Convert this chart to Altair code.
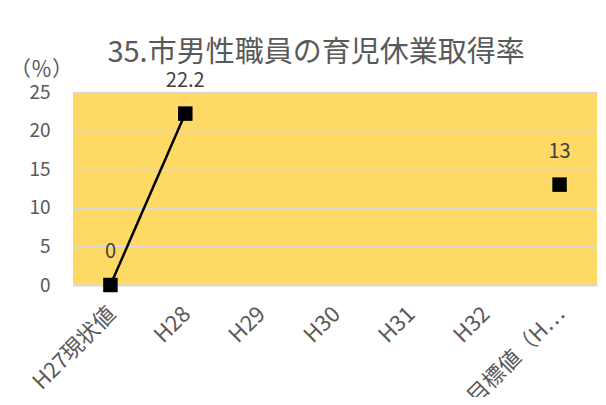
import altair as alt
import pandas as pd

categories = ["H27現状値", "H28", "H29", "H30", "H31", "H32", "目標値（H…"]
values = [0, 22.2, None, None, None, None, 13]
y_ticks = [0, 5, 10, 15, 20, 25]

df = pd.DataFrame({"cat": categories, "val": values, "order": list(range(len(categories)))})
df["label"] = [("" if v is None or pd.isna(v) else (f"{v:g}")) for v in df["val"]]

FONT = "Noto Sans CJK JP"

x = alt.X("cat:N", sort=categories,
          scale=alt.Scale(type="point", padding=0.5),
          axis=alt.Axis(title=None, labelAngle=-45, labelFontSize=22, labelColor="#595959",
                        labelFont=FONT, ticks=False, domainColor="#D9D9D9", domainWidth=2,
                        labelPadding=18, labelOffset=-6, labelLimit=250))
y = alt.Y("val:Q", scale=alt.Scale(domain=[0, 25], nice=False, zero=True),
          axis=alt.Axis(values=y_ticks, title="（％）", titleAngle=0, titleX=-32, titleY=-23,
                        titleAlign="center", titleBaseline="middle", titleFontSize=21,
                        titleFontWeight="normal", titleColor="#595959", titleFont=FONT,
                        labelFontSize=19, labelColor="#595959", labelFont=FONT,
                        ticks=False, domain=False, labelPadding=23,
                        grid=True, gridColor="#D9D9D9", gridWidth=1.5))

base = alt.Chart(df).encode(x=x, y=y)

line = base.mark_line(color="black", strokeWidth=2.5, invalid="break-paths-show-domains")
pts = base.mark_point(shape="square", filled=True, size=210, color="black", opacity=1).transform_filter("isValid(datum.val)")
txt = base.mark_text(dy=-33, fontSize=20, color="#404040", font=FONT).encode(text="label:N").transform_filter("isValid(datum.val)")

chart = alt.layer(line, pts, txt).properties(
    width=524, height=193,
    autosize=alt.AutoSizeParams(type="none"),
    padding={"left": 65, "top": 84, "right": 1, "bottom": 112},
    title=alt.TitleParams("35.市男性職員の育児休業取得率", font=FONT, fontSize=29,
                          fontWeight="normal", color="#595959", anchor="middle", dx=-19, offset=-10),
).configure_view(fill="#FFD966", strokeWidth=0)

chart.save("out.html", embed_options={"renderer": "svg", "actions": False})
